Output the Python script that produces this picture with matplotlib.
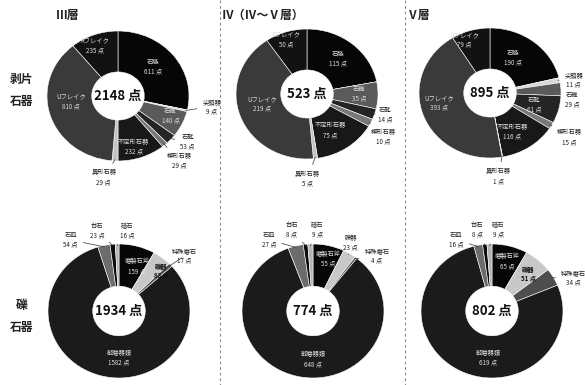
import numpy as np
import matplotlib
matplotlib.use("Agg")
import matplotlib.pyplot as plt
from matplotlib import font_manager

plt.rcParams['font.family'] = ['Noto Sans CJK JP', 'DejaVu Sans']

# ---------------- data ----------------
layer_titles = ["Ⅲ層", "Ⅳ（Ⅳ～Ⅴ層）", "Ⅴ層"]
row_titles = ["剥片\n石器", "礫\n石器"]

flake_categories = ["石鏃", "尖頭器", "石錐", "石匙", "楔形石器", "不定形石器",
                    "異形石器", "Uフレイク", "Rフレイク"]
flake_III = [611, 9, 140, 53, 29, 232, 29, 810, 235]
flake_IV = [115, 0, 35, 14, 10, 75, 5, 219, 50]
flake_V = [190, 11, 29, 61, 15, 116, 1, 393, 79]
flake_totals = [2148, 523, 895]

pebble_categories = ["磨製石斧", "礫器", "特殊磨石", "敲磨器類", "石皿", "台石", "砥石"]
pebble_III = [159, 83, 17, 1582, 54, 23, 16]
pebble_IV = [55, 23, 4, 648, 27, 8, 9]
pebble_V = [65, 51, 34, 619, 16, 8, 9]
pebble_totals = [1934, 774, 802]

unit = "点"

# ---------------- styles ----------------
flake_colors = ["#060606", "#d8d8d8", "#5a5a5a", "#242424", "#787878",
                "#181818", "#c4c4c4", "#3a3a3a", "#121212"]
pebble_colors = ["#070707", "#c8c8c8", "#4e4e4e", "#1b1b1b", "#6c6c6c",
                 "#0c0c0c", "#b4b4b4"]

available = {f.name for f in font_manager.fontManager.ttflist}
narrow = "Liberation Sans Narrow" if "Liberation Sans Narrow" in available else None
center_family = ([narrow] if narrow else []) + ['Noto Sans CJK JP', 'DejaVu Sans']

W, H = 585, 385
fig = plt.figure(figsize=(W / 100, H / 100), dpi=100)
fig.patch.set_facecolor("white")

bg = fig.add_axes([0, 0, 1, 1])
bg.set_xlim(0, W)
bg.set_ylim(H, 0)
bg.axis("off")
for x in (220, 405):
    bg.plot([x, x], [0, H], ls=(0, (2.5, 2.5)), color="#8a8a8a", lw=0.8)

title_pos = [(56, 15), (222, 15), (407, 15)]
for t, (x, y) in zip(layer_titles, title_pos):
    bg.text(x, y, t, fontsize=8.5, fontweight="bold", ha="left", va="center", color="#222222")
bg.text(22, 90, row_titles[0], fontsize=8.5, fontweight="bold", ha="center", va="center",
        linespacing=1.9, color="#222222")
bg.text(22, 316, row_titles[1], fontsize=8.5, fontweight="bold", ha="center", va="center",
        linespacing=1.9, color="#222222")

L = 1.7
HOLE = 0.37


def pie_axes(cx, cy, rx, ry):
    ax = fig.add_axes([(cx - rx * L) / W, (H - cy - ry * L) / H, 2 * rx * L / W, 2 * ry * L / H])
    ax.axis("off")
    return ax


def draw(ax, cats, vals, colors, total, layout):
    ax.pie(vals, colors=colors, startangle=90, counterclock=False, radius=1,
           wedgeprops=dict(width=1 - HOLE, edgecolor="white", linewidth=0.4))
    ax.set_aspect("auto")
    ax.set_xlim(-L, L)
    ax.set_ylim(-L, L)
    tot = float(sum(vals))
    cum = np.cumsum([0] + list(vals))
    for i, (c, v) in enumerate(zip(cats, vals)):
        if c not in layout:
            continue
        kind, (tx, ty), *rest = layout[c]
        label = f"{c}\n{v} {unit}"
        if kind == "in":
            dark = rest[0] if rest else False
            ax.text(tx, ty, label, fontsize=4.5, ha="center", va="center", linespacing=1.25,
                    color="#111111" if dark else "#dcdcdc",
                    fontweight="bold" if dark else "normal")
        else:
            mid = 90 - 360 * (cum[i] + v / 2) / tot
            ex, ey = np.cos(np.radians(mid)), np.sin(np.radians(mid))
            ax.annotate(label, xy=(ex * 0.98, ey * 0.98), xytext=(tx, ty), fontsize=4.5,
                        ha="center", va="center", linespacing=1.25, color="#222222",
                        arrowprops=dict(arrowstyle="-", lw=0.5, color="#333333",
                                        shrinkA=2, shrinkB=0))
    ax.text(0, 0, f"{total} {unit}", fontsize=10.5 if narrow else 9.5, fontweight="bold",
            ha="center", va="center", color="#111111", family=center_family)


flake_layouts = [
    {"Rフレイク": ("in", (-0.33, 0.78)), "石鏃": ("in", (0.49, 0.45)),
     "石錐": ("in", (0.74, -0.3)), "不定形石器": ("in", (0.22, -0.78)),
     "Uフレイク": ("in", (-0.66, -0.08)),
     "尖頭器": ("out", (1.32, -0.16)), "石匙": ("out", (0.98, -0.7)),
     "楔形石器": ("out", (0.86, -1.0)), "異形石器": ("out", (-0.2, -1.25))},
    {"Rフレイク": ("in", (-0.3, 0.84)), "石鏃": ("in", (0.44, 0.54)),
     "石錐": ("in", (0.74, 0.0)), "不定形石器": ("in", (0.33, -0.56)),
     "Uフレイク": ("in", (-0.63, -0.15)),
     "石匙": ("out", (1.1, -0.32)), "楔形石器": ("out", (1.08, -0.66)),
     "異形石器": ("out", (0.0, -1.3))},
    {"Rフレイク": ("in", (-0.36, 0.82)), "石鏃": ("in", (0.33, 0.54)),
     "石匙": ("in", (0.62, -0.18)), "不定形石器": ("in", (0.31, -0.6)),
     "Uフレイク": ("in", (-0.72, -0.15)),
     "尖頭器": ("out", (1.18, 0.2)), "石錐": ("out", (1.16, -0.1)),
     "楔形石器": ("out", (1.12, -0.68)), "異形石器": ("out", (0.12, -1.28))},
]

pebble_layouts = [
    {"磨製石斧": ("in", (0.26, 0.67)), "礫器": ("in", (0.6, 0.6), True),
     "敲磨器類": ("in", (0.0, -0.7)),
     "石皿": ("out", (-0.68, 1.06)), "台石": ("out", (-0.31, 1.2)),
     "砥石": ("out", (0.12, 1.2)), "特殊磨石": ("out", (0.92, 0.82))},
    {"磨製石斧": ("in", (0.21, 0.78)), "敲磨器類": ("in", (0.0, -0.72)),
     "石皿": ("out", (-0.62, 1.06)), "台石": ("out", (-0.3, 1.21)),
     "砥石": ("out", (0.06, 1.21)), "礫器": ("out", (0.53, 1.02)),
     "特殊磨石": ("out", (0.9, 0.82))},
    {"磨製石斧": ("in", (0.22, 0.74)), "礫器": ("in", (0.51, 0.55), True),
     "敲磨器類": ("in", (-0.05, -0.7)),
     "石皿": ("out", (-0.5, 1.06)), "台石": ("out", (-0.21, 1.21)),
     "砥石": ("out", (0.09, 1.21)), "特殊磨石": ("out", (1.15, 0.5))},
]

top_centers = [(118, 96), (307, 94), (490, 93)]
bottom_centers = [(119, 311), (313, 311), (492, 311)]
flake_sets = [flake_III, flake_IV, flake_V]
pebble_sets = [pebble_III, pebble_IV, pebble_V]

for (cx, cy), vals, tot, lay in zip(top_centers, flake_sets, flake_totals, flake_layouts):
    ax = pie_axes(cx, cy, 71, 65)
    draw(ax, flake_categories, vals, flake_colors, tot, lay)

for (cx, cy), vals, tot, lay in zip(bottom_centers, pebble_sets, pebble_totals, pebble_layouts):
    ax = pie_axes(cx, cy, 71, 67)
    draw(ax, pebble_categories, vals, pebble_colors, tot, lay)

fig.savefig("out.png", dpi=100, facecolor="white")
